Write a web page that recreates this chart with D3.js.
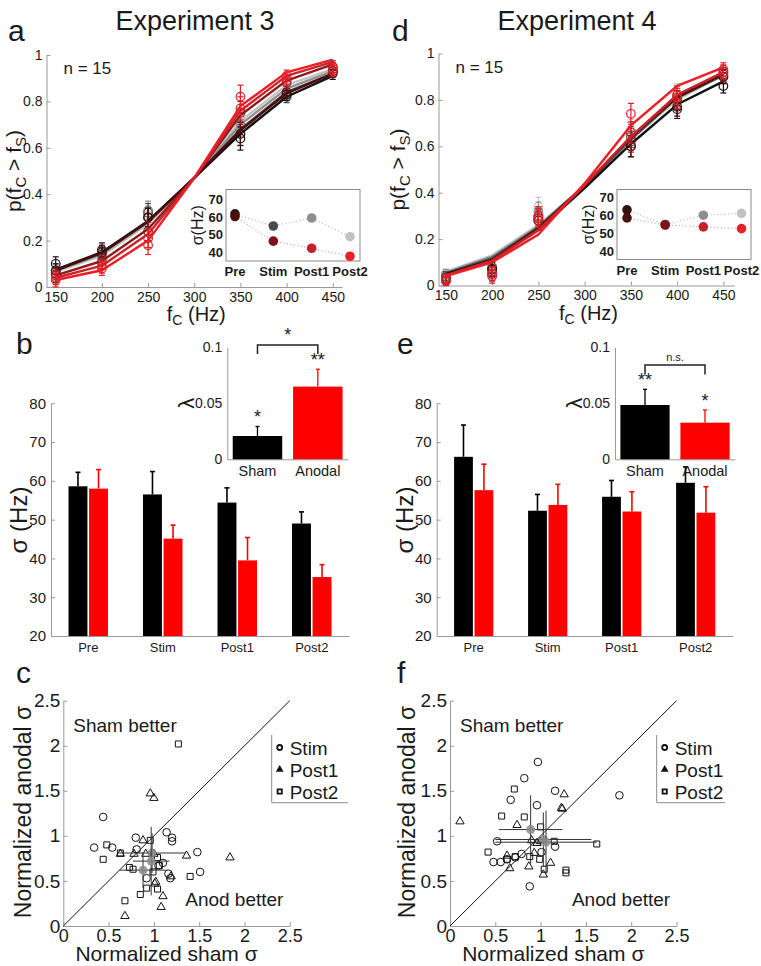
<!DOCTYPE html>
<html><head><meta charset="utf-8">
<script src="https://cdn.jsdelivr.net/npm/d3@7"></script>
<style>body{margin:0;background:#fff} text{font-family:"Liberation Sans",Arial,Helvetica,sans-serif;fill:#1a1a1a}</style>
</head><body><svg id="fig" width="761" height="966"></svg>
<script>
// ---------------- DATA ----------------
const freqs = [150, 200, 250, 300, 350, 400, 450];
const dataFreqs = [150, 200, 250, 350, 400, 450];
const sessions = ["Pre", "Stim", "Post1", "Post2"];
const groups = ["Sham", "Anodal"];
const pTicks = [0, 0.2, 0.4, 0.6, 0.8, 1];
const sigmaTicks = [20, 30, 40, 50, 60, 70, 80];
const insetTicks = [40, 50, 60, 70];
const lambdaTicks = [0, 0.05, 0.1];
const normTicks = [0, 0.5, 1, 1.5, 2, 2.5];

const shamColors = ["#111111", "#4d4d4d", "#8f8f8f", "#c4c4c4"];
const anodColors = ["#4a0d0d", "#8e1a1d", "#c8242a", "#ee1c24"];

// Experiment 3 fitted curves (rows = Pre, Stim, Post1, Post2)
const e3ShamFit = [
  [0.075, 0.150, 0.285, 0.470, 0.660, 0.820, 0.910],
  [0.072, 0.147, 0.282, 0.470, 0.680, 0.840, 0.920],
  [0.070, 0.143, 0.278, 0.470, 0.700, 0.855, 0.930],
  [0.065, 0.135, 0.272, 0.470, 0.715, 0.870, 0.940]
];
const e3AnodFit = [
  [0.072, 0.148, 0.282, 0.470, 0.675, 0.835, 0.920],
  [0.050, 0.112, 0.250, 0.470, 0.740, 0.890, 0.960],
  [0.040, 0.092, 0.228, 0.470, 0.760, 0.910, 0.970],
  [0.030, 0.072, 0.200, 0.470, 0.780, 0.925, 0.980]
];
// Experiment 3 observed points
const e3ShamPts = [
  [0.10, 0.16, 0.30, 0.64, 0.83, 0.92],
  [0.07, 0.14, 0.32, 0.66, 0.82, 0.93],
  [0.06, 0.13, 0.33, 0.70, 0.82, 0.94],
  [0.05, 0.12, 0.31, 0.72, 0.85, 0.95]
];
const e3AnodPts = [
  [0.07, 0.15, 0.30, 0.66, 0.84, 0.93],
  [0.05, 0.11, 0.24, 0.75, 0.88, 0.95],
  [0.04, 0.09, 0.21, 0.77, 0.89, 0.93],
  [0.03, 0.08, 0.18, 0.82, 0.91, 0.94]
];
const e3PtErr = [0.03, 0.03, 0.04, 0.05, 0.025, 0.025];

// Experiment 4 fitted curves
const e4ShamFit = [
  [0.050, 0.110, 0.240, 0.420, 0.610, 0.780, 0.880],
  [0.052, 0.118, 0.250, 0.430, 0.630, 0.810, 0.905],
  [0.055, 0.124, 0.255, 0.430, 0.630, 0.810, 0.910],
  [0.060, 0.130, 0.262, 0.430, 0.630, 0.800, 0.910]
];
const e4AnodFit = [
  [0.046, 0.110, 0.248, 0.430, 0.640, 0.812, 0.912],
  [0.045, 0.108, 0.242, 0.432, 0.640, 0.820, 0.918],
  [0.044, 0.106, 0.238, 0.432, 0.642, 0.822, 0.920],
  [0.040, 0.100, 0.220, 0.440, 0.690, 0.860, 0.940]
];
const e4ShamPts = [
  [0.03, 0.07, 0.28, 0.60, 0.77, 0.86],
  [0.04, 0.08, 0.30, 0.64, 0.80, 0.90],
  [0.05, 0.06, 0.32, 0.66, 0.82, 0.92],
  [0.04, 0.05, 0.34, 0.67, 0.83, 0.92]
];
const e4AnodPts = [
  [0.02, 0.07, 0.29, 0.60, 0.76, 0.90],
  [0.03, 0.05, 0.28, 0.62, 0.80, 0.91],
  [0.03, 0.04, 0.29, 0.66, 0.82, 0.92],
  [0.02, 0.05, 0.30, 0.74, 0.81, 0.93]
];
const e4PtErr = [0.02, 0.03, 0.04, 0.045, 0.04, 0.03];

// Inset sigma values (Hz)
const e3InsetSham = [61.8, 55.0, 59.5, 49.0];
const e3InsetAnod = [60.3, 46.5, 42.5, 38.0];
const e4InsetSham = [63.0, 54.8, 60.0, 61.0];
const e4InsetAnod = [58.5, 54.5, 53.5, 52.5];
const insetShamCols = ["#2a1414", "#4a4a4a", "#8e8e8e", "#c2c2c2"];
const insetAnodCols = ["#4a1010", "#7a1418", "#c4222a", "#e8202a"];

// Bar charts sigma (Hz)
const e3BarSham = [58.6, 56.5, 54.4, 49.0];
const e3BarShamErr = [3.6, 5.9, 3.8, 3.0];
const e3BarAnod = [58.0, 45.1, 39.5, 35.2];
const e3BarAnodErr = [4.9, 3.5, 5.9, 3.2];
const e4BarSham = [66.2, 52.3, 55.9, 59.5];
const e4BarShamErr = [8.2, 4.2, 4.2, 4.1];
const e4BarAnod = [57.6, 53.8, 52.1, 51.8];
const e4BarAnodErr = [6.7, 5.3, 5.1, 6.7];

// Lambda insets
const e3Lambda = [0.0208, 0.0649];
const e3LambdaErr = [0.0085, 0.0155];
const e3LambdaStars = ["*", "**"];
const e4Lambda = [0.0485, 0.0327];
const e4LambdaErr = [0.0140, 0.0113];
const e4LambdaStars = ["**", "*"];

// Scatter (normalized sham sigma, normalized anodal sigma)
const e3Stim = [[0.44,1.21],[0.34,0.87],[0.54,0.87],[0.80,0.98],[0.81,0.85],[1.14,1.04],[1.20,0.98],[1.20,0.94],[1.48,0.82],[1.51,0.60],[1.10,0.70],[1.05,0.67],[1.16,0.58],[1.18,0.53],[0.92,0.53]];
const e3Post1 = [[0.96,1.47],[1.00,1.42],[0.88,0.95],[0.63,0.80],[0.78,0.80],[0.91,0.80],[1.00,0.80],[1.36,0.78],[1.84,0.76],[1.19,0.55],[1.02,0.49],[1.10,0.33],[1.08,0.21],[0.68,0.11],[1.01,0.47]];
const e3Post2 = [[1.27,2.02],[0.48,0.90],[0.44,0.74],[0.96,0.95],[0.63,0.81],[0.73,0.65],[0.77,0.63],[1.04,0.76],[0.99,0.60],[1.40,0.55],[0.92,0.42],[1.04,0.41],[0.85,0.35],[0.68,0.28],[1.06,0.67]];
const e3Means = [[0.98,0.81,0.37,0.22],[0.97,0.72,0.20,0.38],[0.88,0.62,0.26,0.20]];

const e4Stim = [[0.97,1.82],[0.82,1.64],[0.67,1.40],[1.16,1.50],[0.96,1.34],[1.87,1.45],[0.52,0.94],[0.48,0.71],[0.56,0.71],[0.63,0.74],[0.72,0.76],[0.79,0.80],[1.01,0.82],[1.16,0.88],[0.88,0.44]];
const e4Post1 = [[0.11,1.16],[0.74,1.12],[1.26,1.46],[1.23,1.31],[0.90,0.95],[0.96,0.92],[0.93,0.81],[0.63,0.78],[0.66,0.64],[0.87,0.66],[1.11,0.70],[1.03,0.57],[1.00,0.94],[1.24,1.30]];
const e4Post2 = [[0.71,1.52],[0.57,1.22],[0.82,1.21],[1.00,1.10],[0.42,0.82],[0.63,0.74],[0.88,0.77],[0.99,0.74],[1.15,0.94],[1.04,0.63],[1.28,0.62],[1.28,0.59],[1.62,0.91],[0.72,0.77]];
const e4Means = [[0.89,1.07,0.35,0.38],[1.03,0.96,0.53,0.30],[1.06,0.93,0.56,0.35]];

// ---------------- DRAWING ----------------
const svg = d3.select("#fig");
const AX = "#9a9a9a";

function label(g, x, y, s, size, anchor = "middle", extra = {}) {
  const t = g.append("text").attr("x", x).attr("y", y).attr("font-size", size)
    .attr("text-anchor", anchor).text(s);
  for (const k in extra) t.attr(k, extra[k]);
  return t;
}
function styleAxis(sel, fs) {
  sel.select(".domain").attr("stroke", AX).attr("stroke-width", 1);
  sel.selectAll(".tick line").attr("stroke", AX);
  sel.selectAll(".tick text").attr("font-size", fs).attr("fill", "#222")
    .attr("font-family", '"Liberation Sans",Arial,sans-serif');
}

// Titles & letters
label(svg, 195, 30, "Experiment 3", 27);
label(svg, 577, 30, "Experiment 4", 27);
[["a",8,41],["d",392,41],["b",16,354],["e",397,354],["c",16,683],["f",397,683]]
  .forEach(([s,x,y]) => label(svg, x, y, s, 30, "start"));

function psychPanel(cfg) {
  const g = svg.append("g");
  const x = d3.scaleLinear().domain(cfg.xDom).range(cfg.xRange);
  const y = d3.scaleLinear().domain([0, 1]).range(cfg.yRange);
  const ya = g.append("g").attr("transform", `translate(${cfg.xRange[0]},0)`)
    .call(d3.axisLeft(y).tickValues(pTicks).tickFormat(d => d === 0 || d === 1 ? d : d3.format(".1f")(d))
      .tickSizeInner(-4).tickSizeOuter(0).tickPadding(4));
  styleAxis(ya, 14);
  const xa = g.append("g").attr("transform", `translate(0,${cfg.yRange[0]})`)
    .call(d3.axisBottom(x).tickValues(freqs).tickSizeInner(-4).tickSizeOuter(0).tickPadding(5));
  styleAxis(xa, 14);

  // labels
  const yl = g.append("text").attr("font-size", 21).attr("text-anchor", "middle")
    .attr("transform", `translate(${cfg.yLabX},${(cfg.yRange[0] + cfg.yRange[1]) / 2}) rotate(-90)`);
  yl.append("tspan").text("p(f");
  yl.append("tspan").attr("font-size", 15).attr("dy", 5).text("C");
  yl.append("tspan").attr("dy", -5).text(" > f");
  yl.append("tspan").attr("font-size", 15).attr("dy", 5).text("S");
  yl.append("tspan").attr("dy", -5).text(")");
  const xl = g.append("text").attr("font-size", 20).attr("text-anchor", "middle")
    .attr("x", (cfg.xRange[0] + cfg.xRange[1]) / 2 + 2).attr("y", cfg.yRange[0] + 34);
  xl.append("tspan").text("f");
  xl.append("tspan").attr("font-size", 14).attr("dy", 4).text("C");
  xl.append("tspan").attr("dy", -4).text(" (Hz)");
  label(g, cfg.xRange[0] + 17, cfg.yRange[1] + 19, "n = 15", 17, "start");

  const line = d3.line().x((d, i) => x(freqs[i])).y(d => y(d));
  const drawSeries = (fit, pts, col, err) => {
    g.append("path").attr("d", line(fit)).attr("fill", "none").attr("stroke", col)
      .attr("stroke-width", 2.4).attr("stroke-linejoin", "round");
    pts.forEach((v, i) => {
      const cx = x(dataFreqs[i]), e = err[i];
      g.append("line").attr("x1", cx).attr("x2", cx).attr("y1", y(v - e)).attr("y2", y(v + e))
        .attr("stroke", col).attr("stroke-width", 1.2);
      [v - e, v + e].forEach(w => g.append("line").attr("x1", cx - 3).attr("x2", cx + 3)
        .attr("y1", y(w)).attr("y2", y(w)).attr("stroke", col).attr("stroke-width", 1.2));
      g.append("circle").attr("cx", cx).attr("cy", y(v)).attr("r", 4.3)
        .attr("fill", "none").attr("stroke", col).attr("stroke-width", 1.2);
    });
  };
  for (let k = 3; k >= 0; k--) drawSeries(cfg.shamFit[k], cfg.shamPts[k], shamColors[k], cfg.err);
  for (let k = 0; k < 4; k++) drawSeries(cfg.anodFit[k], cfg.anodPts[k], anodColors[k], cfg.err);

  // inset
  const ig = svg.append("g");
  const ib = cfg.inset;
  const iy = d3.scaleLinear().domain([40, 70]).range([ib.y40, ib.y70]);
  const ix = d3.scalePoint().domain(sessions).range([ib.xPre, ib.xPost2]);
  ig.append("rect").attr("x", ib.left).attr("y", ib.top).attr("width", ib.right - ib.left)
    .attr("height", ib.bottom - ib.top).attr("fill", "#fff").attr("stroke", "#8a8a8a").attr("stroke-width", 1);
  insetTicks.forEach(v => label(ig, ib.left - 3, iy(v) + 4.5, v, 13, "end", {"font-weight": "bold"}));
  sessions.forEach(s => label(ig, ix(s), ib.bottom + 15, s, 13, "middle", {"font-weight": "bold"}));
  ig.append("text").attr("font-size", 16).attr("text-anchor", "middle")
    .attr("transform", `translate(${ib.left - 23},${(ib.top + ib.bottom) / 2}) rotate(-90)`).text("σ(Hz)");
  const dl = d3.line().x((d, i) => ix(sessions[i])).y(d => iy(d));
  ig.append("path").attr("d", dl(cfg.insetSham)).attr("fill", "none").attr("stroke", "#b5b5b5")
    .attr("stroke-width", 1.2).attr("stroke-dasharray", "1,2.5");
  ig.append("path").attr("d", dl(cfg.insetAnod)).attr("fill", "none").attr("stroke", "#d49a9a")
    .attr("stroke-width", 1.2).attr("stroke-dasharray", "1,2.5");
  cfg.insetSham.forEach((v, i) => ig.append("circle").attr("cx", ix(sessions[i])).attr("cy", iy(v)).attr("r", 4.8).attr("fill", insetShamCols[i]));
  cfg.insetAnod.forEach((v, i) => ig.append("circle").attr("cx", ix(sessions[i])).attr("cy", iy(v)).attr("r", 4.8).attr("fill", insetAnodCols[i]));
}

psychPanel({
  xDom: [140, 460], xRange: [46.5, 342], yRange: [287, 55], yLabX: 21,
  shamFit: e3ShamFit, anodFit: e3AnodFit, shamPts: e3ShamPts, anodPts: e3AnodPts, err: e3PtErr,
  insetSham: e3InsetSham, insetAnod: e3InsetAnod,
  inset: {left: 226, right: 360, top: 189.5, bottom: 261, y40: 252.7, y70: 199.3, xPre: 235, xPost2: 350}
});
psychPanel({
  xDom: [142, 462], xRange: [438.5, 734.5], yRange: [285.5, 53.5], yLabX: 405,
  shamFit: e4ShamFit, anodFit: e4AnodFit, shamPts: e4ShamPts, anodPts: e4AnodPts, err: e4PtErr,
  insetSham: e4InsetSham, insetAnod: e4InsetAnod,
  inset: {left: 617, right: 751, top: 189.5, bottom: 259.5, y40: 251, y70: 197.3, xPre: 627, xPost2: 741.5}
});

function barPanel(cfg) {
  const g = svg.append("g");
  const y = d3.scaleLinear().domain([20, 80]).range([636, 403.3]);
  const x0 = d3.scaleBand().domain(sessions).range(cfg.xRange).paddingInner(0.47).paddingOuter(0.235);
  const x1 = d3.scaleBand().domain(groups).range([0, x0.bandwidth()]).paddingInner(0.08);
  const ya = g.append("g").attr("transform", `translate(${cfg.xRange[0]},0)`)
    .call(d3.axisLeft(y).tickValues(sigmaTicks).tickSizeInner(-4).tickSizeOuter(0).tickPadding(5));
  styleAxis(ya, 15);
  const xa = g.append("g").attr("transform", "translate(0,636)")
    .call(d3.axisBottom(x0).tickSize(0).tickPadding(5));
  styleAxis(xa, 13);
  xa.selectAll(".tick text").attr("dy", "0.85em");
  g.append("text").attr("font-size", 24).attr("text-anchor", "middle")
    .attr("transform", `translate(${cfg.yLabX},520) rotate(-90)`).text("σ (Hz)");
  const sets = [[cfg.sham, cfg.shamErr, "#000", "Sham"], [cfg.anod, cfg.anodErr, "#ff0000", "Anodal"]];
  sets.forEach(([vals, errs, col, grp]) => {
    vals.forEach((v, i) => {
      const bx = x0(sessions[i]) + x1(grp), w = x1.bandwidth(), cx = bx + w / 2;
      g.append("line").attr("x1", cx).attr("x2", cx).attr("y1", y(v)).attr("y2", y(v + errs[i]))
        .attr("stroke", col).attr("stroke-width", 1.6);
      g.append("line").attr("x1", cx - 2.5).attr("x2", cx + 2.5).attr("y1", y(v + errs[i])).attr("y2", y(v + errs[i]))
        .attr("stroke", col).attr("stroke-width", 1.6);
      g.append("rect").attr("x", bx).attr("y", y(v)).attr("width", w).attr("height", y(20) - y(v)).attr("fill", col);
    });
  });

  // lambda inset
  const L = cfg.lam;
  const ly = d3.scaleLinear().domain([0, 0.1]).range([459.3, 347.3]);
  const lx = d3.scaleBand().domain(groups).range([L.left, L.right]).paddingInner(0.18).paddingOuter(0.09);
  const lya = g.append("g").attr("transform", `translate(${L.left},0)`)
    .call(d3.axisLeft(ly).tickValues(lambdaTicks).tickFormat(d => d === 0 ? "0" : d === 0.1 ? "0.1" : "0.05")
      .tickSizeInner(0).tickSizeOuter(0).tickPadding(5));
  styleAxis(lya, 14);
  const lxa = g.append("g").attr("transform", "translate(0,459.3)")
    .call(d3.axisBottom(lx).tickSize(0).tickPadding(4));
  styleAxis(lxa, 14.5);
  lxa.selectAll(".tick text").attr("dy", "0.85em");
  g.append("text").attr("font-size", 22).attr("text-anchor", "middle")
    .attr("transform", `translate(${L.left - 33},${ly(0.05)}) rotate(-90)`).text("λ");
  L.vals.forEach((v, i) => {
    const col = i === 0 ? "#000" : "#ff0000";
    const bx = lx(groups[i]), w = lx.bandwidth(), cx = bx + w / 2;
    const top = v + L.errs[i];
    g.append("line").attr("x1", cx).attr("x2", cx).attr("y1", ly(v)).attr("y2", ly(top)).attr("stroke", col).attr("stroke-width", 1.3);
    g.append("line").attr("x1", cx - 2).attr("x2", cx + 2).attr("y1", ly(top)).attr("y2", ly(top)).attr("stroke", col).attr("stroke-width", 1.3);
    g.append("rect").attr("x", bx).attr("y", ly(v)).attr("width", w).attr("height", ly(0) - ly(v)).attr("fill", col);
    label(g, cx, ly(top) - 3, L.stars[i], 18);
  });
  // bracket
  const bxA = lx(groups[0]) + lx.bandwidth() / 2, bxB = lx(groups[1]) + lx.bandwidth() / 2;
  g.append("path").attr("d", `M${bxA},${L.brBot}V${L.brTop}H${bxB}V${L.brBot}`)
    .attr("fill", "none").attr("stroke", "#222").attr("stroke-width", 1.5);
  label(g, (bxA + bxB) / 2, L.brTop - 4, L.sig, L.sigSize);
}

barPanel({
  xRange: [51, 349], yLabX: 27,
  sham: e3BarSham, shamErr: e3BarShamErr, anod: e3BarAnod, anodErr: e3BarAnodErr,
  lam: {left: 227.3, right: 348, vals: e3Lambda, errs: e3LambdaErr, stars: e3LambdaStars,
        brTop: 345, brBot: 354, sig: "*", sigSize: 18}
});
barPanel({
  xRange: [436.7, 732.7], yLabX: 413,
  sham: e4BarSham, shamErr: e4BarShamErr, anod: e4BarAnod, anodErr: e4BarAnodErr,
  lam: {left: 615, right: 735, vals: e4Lambda, errs: e4LambdaErr, stars: e4LambdaStars,
        brTop: 365, brBot: 374.5, sig: "n.s.", sigSize: 11}
});

function scatterPanel(cfg) {
  const g = svg.append("g");
  const x = d3.scaleLinear().domain([0, 2.5]).range([cfg.x0, cfg.x0 + 226.5]);
  const y = d3.scaleLinear().domain([0, 2.5]).range([926, 700.7]);
  const ya = g.append("g").attr("transform", `translate(${cfg.x0},0)`)
    .call(d3.axisLeft(y).tickValues(normTicks).tickFormat(d => d).tickSizeInner(-4).tickSizeOuter(0).tickPadding(3));
  styleAxis(ya, 19);
  const xa = g.append("g").attr("transform", "translate(0,926)")
    .call(d3.axisBottom(x).tickValues(normTicks).tickFormat(d => d).tickSizeInner(-4).tickSizeOuter(0).tickPadding(3));
  styleAxis(xa, 18);
  g.append("line").attr("x1", x(0)).attr("y1", y(0)).attr("x2", x(2.5)).attr("y2", y(2.5))
    .attr("stroke", "#111").attr("stroke-width", 1);
  g.append("text").attr("font-size", 23).attr("text-anchor", "middle")
    .attr("transform", `translate(${cfg.yLabX},812) rotate(-90)`).text("Normalized anodal σ");
  label(g, x(1.25) - 10, 961, "Normalized sham σ", 21);
  label(g, x(0.11), 732, "Sham better", 19, "start");
  label(g, x(2.43), 906, "Anod better", 19, "end");

  const tri = d3.symbol().type(d3.symbolTriangle).size(30);
  const sq = d3.symbol().type(d3.symbolSquare).size(36);
  cfg.stim.forEach(([a, b]) => g.append("circle").attr("cx", x(a)).attr("cy", y(b)).attr("r", 3.8)
    .attr("fill", "none").attr("stroke", "#111").attr("stroke-width", 1));
  cfg.post1.forEach(([a, b]) => g.append("path").attr("d", tri()).attr("transform", `translate(${x(a)},${y(b)})`)
    .attr("fill", "none").attr("stroke", "#111").attr("stroke-width", 1));
  cfg.post2.forEach(([a, b]) => g.append("path").attr("d", sq()).attr("transform", `translate(${x(a)},${y(b)})`)
    .attr("fill", "none").attr("stroke", "#111").attr("stroke-width", 1));
  // means with SE crosshairs
  cfg.means.forEach(([mx, my, ex, ey]) => {
    g.append("line").attr("x1", x(mx - ex)).attr("x2", x(mx + ex)).attr("y1", y(my)).attr("y2", y(my))
      .attr("stroke", "#333").attr("stroke-width", 1);
    g.append("line").attr("x1", x(mx)).attr("x2", x(mx)).attr("y1", y(my - ey)).attr("y2", y(my + ey))
      .attr("stroke", "#333").attr("stroke-width", 1);
    g.append("circle").attr("cx", x(mx)).attr("cy", y(my)).attr("r", 4.5).attr("fill", "#8a8a8a").attr("fill-opacity", 0.85);
  });
  // legend
  const lg = g.append("g");
  lg.append("path").attr("d", `M${cfg.legX},735V802.7H${cfg.legR}`).attr("fill", "none").attr("stroke", "#8a8a8a");
  const ents = ["Stim", "Post1", "Post2"], ly = [747.5, 769.5, 791.5];
  ents.forEach((s, i) => label(lg, cfg.legX + 18, ly[i] + 7, s, 19, "start"));
  lg.append("circle").attr("cx", cfg.legX + 8).attr("cy", ly[0]).attr("r", 2.5).attr("fill", "none").attr("stroke", "#111").attr("stroke-width", 1.8);
  lg.append("path").attr("d", d3.symbol().type(d3.symbolTriangle).size(26)()).attr("transform", `translate(${cfg.legX + 8},${ly[1]})`).attr("fill", "#111");
  lg.append("path").attr("d", d3.symbol().type(d3.symbolSquare).size(18)()).attr("transform", `translate(${cfg.legX + 8},${ly[2]})`)
    .attr("fill", "none").attr("stroke", "#111").attr("stroke-width", 1.8);
}

scatterPanel({x0: 63.3, yLabX: 31, legX: 271.7, legR: 348, stim: e3Stim, post1: e3Post1, post2: e3Post2, means: e3Means});
scatterPanel({x0: 450, yLabX: 415, legX: 656.7, legR: 725, stim: e4Stim, post1: e4Post1, post2: e4Post2, means: e4Means});
</script></body></html>
